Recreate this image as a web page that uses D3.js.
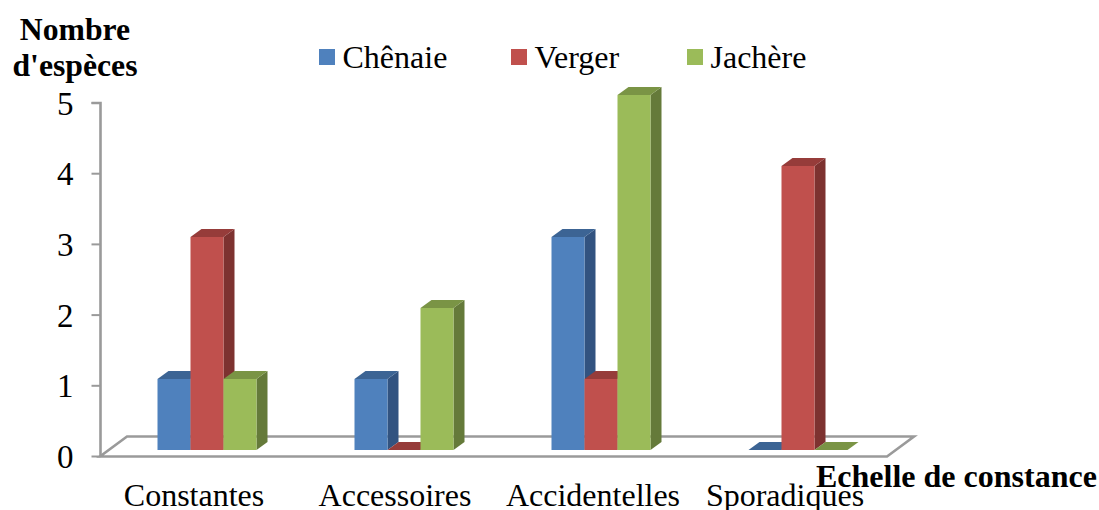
<!DOCTYPE html>
<html><head><meta charset="utf-8">
<script src="https://cdn.jsdelivr.net/npm/d3@7/dist/d3.min.js"></script>
<style>
html,body{margin:0;padding:0;background:#fff}
svg{display:block}
text{font-family:"Liberation Serif","Times New Roman",serif;fill:#000}
</style></head><body>
<svg id="c" width="1099" height="510"></svg>
<script>
const categories = ["Constantes","Accessoires","Accidentelles","Sporadiques"];
const seriesNames = ["Chênaie","Verger","Jachère"];
const chenaie = [1,1,3,0];
const verger = [3,0,1,4];
const jachere = [1,2,5,0];
const yTicks = [0,1,2,3,4,5];
const front = ["#4F81BD","#C0504D","#9BBB59"];
const side = ["#325380","#7D3230","#657A3A"];
const top_ = ["#3C6494","#963C3A","#7A9445"];
const grey = "#9a9a9a";

const values = [chenaie,verger,jachere];
const svg = d3.select("#c");
const depthX = 11, depthY = 8;

const x0 = d3.scaleBand().domain(categories).range([108.5,896.5]);
const x1 = d3.scaleBand().domain(seriesNames).range([49,148]);
const yBar = d3.scaleLinear().domain([0,5]).range([450,95]);
const yWall = d3.scaleLinear().domain([0,5]).range([456.5,103]);

// floor
const fx0=100, fx1=887, fy0=456.5, fy1=436.5, fdx=27;
svg.append("path")
  .attr("d",`M${fx0},${fy0}L${fx1},${fy0}L${fx1+fdx},${fy1}L${fx0+fdx},${fy1}Z`)
  .attr("fill","#fff").attr("stroke",grey).attr("stroke-width",2.6);

// y axis
const yAxis = d3.axisLeft(yWall).tickValues(yTicks).tickFormat(d3.format("d")).tickSize(9).tickPadding(18).offset(0);
const gy = svg.append("g").attr("transform","translate(100.5,0)").call(yAxis);
gy.select(".domain").attr("stroke",grey).attr("stroke-width",2.6).attr("d","M-9,103H0V456.5");
gy.selectAll(".tick line").attr("stroke",grey).attr("stroke-width",2);
gy.selectAll("text").style("font-size","33px").style("font-family","Liberation Serif").attr("fill","#000")
  .attr("dy",null).attr("y",11.5);

// bars
categories.forEach((c,i)=>{
  const g = svg.append("g");
  seriesNames.forEach((s,j)=>{
    const v = values[j][i];
    const l = x0(c)+x1(s), r = l+x1.bandwidth();
    const b = yBar(0), t = yBar(v);
    if(v>0) g.append("path").attr("fill",side[j])
      .attr("d",`M${r},${b}L${r+depthX},${b-depthY}L${r+depthX},${t-depthY}L${r},${t}Z`);
    g.append("path").attr("fill",top_[j])
      .attr("d",`M${l},${t}L${l+depthX},${t-depthY}L${r+depthX},${t-depthY}L${r},${t}Z`);
    if(v>0) g.append("rect").attr("fill",front[j]).attr("x",l).attr("y",t).attr("width",r-l).attr("height",b-t);
  });
});

// category labels
const labelScale = d3.scalePoint().domain(categories).range([194,785]);
const nudge = {Accessoires:4,Accidentelles:5};
svg.append("g").selectAll("text").data(categories).join("text")
  .attr("x",d=>labelScale(d)+(nudge[d]||0)).attr("y",506).attr("text-anchor","middle")
  .style("font-size","32px").text(d=>d);

// legend
const legPos = [319,511,687];
seriesNames.forEach((s,i)=>{
  svg.append("rect").attr("x",legPos[i]).attr("y",49).attr("width",16).attr("height",16).attr("fill",front[i]);
  svg.append("text").attr("x",legPos[i]+23.5).attr("y",68).style("font-size","32px").text(s);
});

// axis titles
[["Nombre",75,40],["d'espèces",75,76]].forEach(([t,x,y])=>{
  svg.append("text").attr("x",x).attr("y",y).attr("text-anchor","middle")
    .style("font-size","31.7px").style("font-weight","bold").text(t);
});
svg.append("text").attr("x",816).attr("y",487)
  .style("font-size","32px").style("font-weight","bold").text("Echelle de constance");
</script>
</body></html>
